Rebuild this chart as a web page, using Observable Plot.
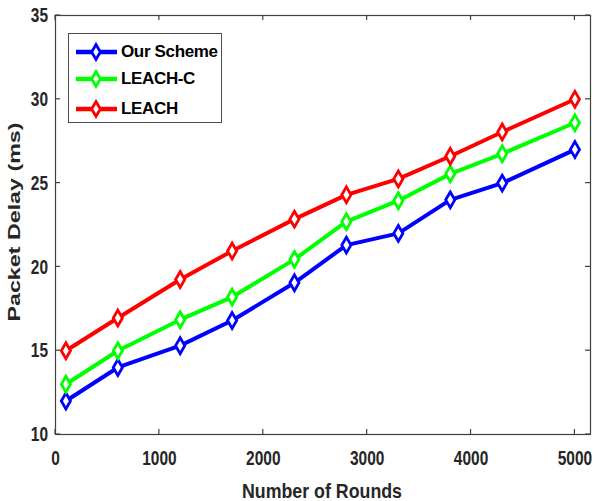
<!DOCTYPE html>
<html>
<head>
<meta charset="utf-8">
<script src="https://cdn.jsdelivr.net/npm/d3@7"></script>
<script src="https://cdn.jsdelivr.net/npm/@observablehq/plot@0.6"></script>
<style>
  body { margin: 0; background: #fff; }
  #wrap { position: relative; width: 594px; height: 501px; font-family: "Liberation Sans", Arial, sans-serif; }
  #legend { position: absolute; left: 68px; top: 33px; width: 152px; height: 88px; border: 1.5px solid #4d4d4d; background: #fff; box-sizing: content-box; }
  #legend .row { position: absolute; left: 7px; height: 22px; display: flex; align-items: center; }
  #legend .row span { font-weight: bold; font-size: 17px; color: #000; margin-left: 4px; letter-spacing: -0.35px; }
</style>
</head>
<body>
<div id="wrap"></div>
<script>
const rounds = [100, 600, 1200, 1700, 2300, 2800, 3300, 3800, 4300, 5000];
const ourScheme = [12, 14, 15.3, 16.8, 19.05, 21.3, 22, 24, 25, 27];
const leachC = [13, 15, 16.85, 18.2, 20.45, 22.7, 23.95, 25.55, 26.75, 28.6];
const leach = [15, 16.95, 19.25, 20.95, 22.85, 24.3, 25.25, 26.6, 28.05, 30];
const seriesNames = ["Our Scheme", "LEACH-C", "LEACH"];
const seriesColors = ["#0000ff", "#00ff00", "#ff0000"];
const xTicks = [0, 1000, 2000, 3000, 4000, 5000];
const yTicks = [10, 15, 20, 25, 30, 35];
const xLabel = "Number of Rounds";
const yLabel = "Packet Delay (ms)";

const seriesValues = [ourScheme, leachC, leach];
const data = seriesNames.flatMap((name, s) =>
  rounds.map((r, i) => ({series: name, x: r, y: seriesValues[s][i]}))
);

const axisColor = "#404040";
const textColor = "#262626";
const tickFont = {fontSize: 21, fontWeight: "bold", fill: textColor, tickFormat: "d"};

const plot = Plot.plot({
  width: 594,
  height: 501,
  marginLeft: 55,
  marginRight: 4,
  marginTop: 15,
  marginBottom: 67,
  style: {fontFamily: "'Liberation Sans', Arial, sans-serif", background: "#fff"},
  x: {domain: [0, 5150]},
  y: {domain: [10, 35]},
  color: {domain: seriesNames, range: seriesColors},
  marks: [
    Plot.frame({stroke: axisColor, strokeWidth: 1.2}),
    Plot.axisX(xTicks, {anchor: "bottom", tickSize: 0, tickPadding: 16, label: null, ...tickFont}),
    Plot.axisY(yTicks, {anchor: "left", tickSize: 0, tickPadding: 7.5, label: null, ...tickFont}),
    Plot.line(data, {x: "x", y: "y", z: "series", stroke: "series", strokeWidth: 4, strokeLinejoin: "miter"}),
    Plot.dot(data, {x: "x", y: "y", stroke: "series", fill: "white", symbol: "diamond", r: 4.8, strokeWidth: 2.8})
  ]
});

const svg = d3.select(plot);
// condensed look of the reference tick labels
svg.selectAll('g[aria-label="x-axis tick label"] text, g[aria-label="y-axis tick label"] text')
  .each(function() {
    const n = this.textContent.length;
    d3.select(this).attr("textLength", n * 8.6).attr("lengthAdjust", "spacingAndGlyphs");
  });
// last x label sits at the right edge: anchor it at its end so it stays inside
const xLabels = svg.selectAll('g[aria-label="x-axis tick label"] text').nodes();
if (xLabels.length) {
  const last = d3.select(xLabels[xLabels.length - 1]);
  const n = last.text().length;
  last.attr("text-anchor", "end").attr("dx", n * 8.6 / 2);
}

const sx = plot.scale("x"), sy = plot.scale("y");
const fLeft = 55, fRight = 590, fTop = 15, fBottom = 434;
const tg = svg.append("g").attr("stroke", axisColor).attr("stroke-width", 1.2);
xTicks.forEach(v => {
  const px = sx.apply(v);
  tg.append("line").attr("x1", px).attr("x2", px).attr("y1", fBottom).attr("y2", fBottom - 5);
  tg.append("line").attr("x1", px).attr("x2", px).attr("y1", fTop).attr("y2", fTop + 5);
});
yTicks.forEach(v => {
  const py = sy.apply(v);
  tg.append("line").attr("x1", fLeft).attr("x2", fLeft + 5).attr("y1", py).attr("y2", py);
  tg.append("line").attr("x1", fRight).attr("x2", fRight - 5).attr("y1", py).attr("y2", py);
});

svg.append("text")
  .attr("x", 322).attr("y", 498)
  .attr("text-anchor", "middle")
  .attr("font-size", 21).attr("font-weight", "bold").attr("fill", textColor)
  .attr("textLength", 160).attr("lengthAdjust", "spacingAndGlyphs")
  .text(xLabel);

svg.append("text")
  .attr("transform", "translate(20,222) rotate(-90)")
  .attr("text-anchor", "middle")
  .attr("font-size", 17).attr("font-weight", "bold").attr("fill", textColor)
  .attr("textLength", 199).attr("lengthAdjust", "spacingAndGlyphs")
  .text(yLabel);

const wrap = document.getElementById("wrap");
wrap.appendChild(plot);
plot.style.position = "absolute";
plot.style.left = "0"; plot.style.top = "0";

const legend = document.createElement("div");
legend.id = "legend";
const rowTops = [7, 34, 64];
const diamond = d3.symbol(d3.symbolDiamond, 65)();
seriesNames.forEach((name, i) => {
  const row = document.createElement("div");
  row.className = "row";
  row.style.top = rowTops[i] + "px";
  const sw = d3.create("svg").attr("width", 41).attr("height", 22);
  sw.append("line").attr("x1", 0).attr("x2", 41).attr("y1", 11).attr("y2", 11)
    .attr("stroke", seriesColors[i]).attr("stroke-width", 4.5);
  sw.append("path").attr("d", diamond).attr("transform", "translate(20,11)")
    .attr("stroke", seriesColors[i]).attr("stroke-width", 2.8).attr("fill", "white");
  row.appendChild(sw.node());
  const t = document.createElement("span");
  t.textContent = name;
  row.appendChild(t);
  legend.appendChild(row);
});
wrap.appendChild(legend);
</script>
</body>
</html>
